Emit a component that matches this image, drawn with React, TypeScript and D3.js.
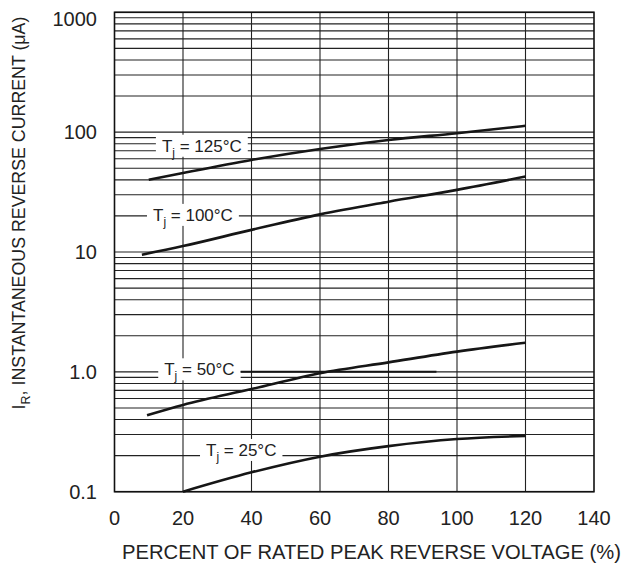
import { useEffect, useRef } from "react";
import * as d3 from "d3";

// percent of rated peak reverse voltage
const X_TICKS = [0, 20, 40, 60, 80, 100, 120, 140];
const Y_TICKS = [0.1, 1, 10, 100, 1000];
const Y_TICK_LABELS = ["0.1", "1.0", "10", "100", "1000"];

// I_R (uA)
const T125_X = [10, 20, 40, 60, 80, 100, 120];
const T125_Y = [40, 45.6, 58.6, 72.4, 86, 98, 113];
const T100_X = [8, 20, 40, 60, 80, 100, 120];
const T100_Y = [9.5, 11.2, 15.3, 20.6, 26.3, 33, 42.6];
const T50_X = [9.5, 20, 40, 60, 80, 100, 120];
const T50_Y = [0.435, 0.53, 0.718, 0.975, 1.2, 1.475, 1.75];
const T25_X = [20, 40, 60, 80, 100, 120];
const T25_Y = [0.1, 0.145, 0.196, 0.24, 0.275, 0.292];

const SERIES_TEMPS = ["125", "100", "50", "25"];
const SERIES_X = [T125_X, T100_X, T50_X, T25_X];
const SERIES_Y = [T125_Y, T100_Y, T50_Y, T25_Y];
// where each curve's label sits, in data units (percent, uA)
const LABEL_X = [25.5, 22.9, 24.8, 37.0];
const LABEL_Y = [77, 20.4, 1.05, 0.223];

const W = 624;
const H = 566;
const FONT = "'Liberation Sans', Arial, Helvetica, sans-serif";

export default function App() {
  const ref = useRef<SVGSVGElement | null>(null);

  useEffect(() => {
    const node = ref.current;
    if (!node) return;
    const svg = d3.select(node);
    svg.selectAll("*").remove();

    const left = 114.5, right = 594, top = 12.3, bottom = 491.7;
    const x = d3.scaleLinear().domain([0, 140]).range([left, right]);
    const y = d3.scaleLog().domain([0.1, 1000]).range([bottom, top]);

    svg.append("rect").attr("width", W).attr("height", H).attr("fill", "#fff");

    const grid = svg.append("g").attr("stroke", "#222").attr("stroke-width", 1.1);
    // horizontal log grid: every 1..9 of each decade
    grid
      .selectAll("line.h")
      .data(y.ticks())
      .enter()
      .append("line")
      .attr("class", "h")
      .attr("x1", left)
      .attr("x2", right)
      .attr("y1", (d) => y(d))
      .attr("y2", (d) => y(d));
    grid
      .selectAll("line.v")
      .data(X_TICKS.slice(1, -1))
      .enter()
      .append("line")
      .attr("class", "v")
      .attr("x1", (d) => x(d))
      .attr("x2", (d) => x(d))
      .attr("y1", top)
      .attr("y2", bottom);

    // curves
    const line = d3
      .line<[number, number]>()
      .x((d) => x(d[0]))
      .y((d) => y(d[1]))
      .curve(d3.curveMonotoneX);

    SERIES_X.forEach((xs, i) => {
      const pts = xs.map((v, j) => [v, SERIES_Y[i][j]] as [number, number]);
      svg
        .append("path")
        .attr("d", line(pts))
        .attr("fill", "none")
        .attr("stroke", "#161616")
        .attr("stroke-width", 2.6)
        .attr("stroke-linecap", "butt");
    });

    // curve labels with white knock-out boxes
    SERIES_TEMPS.forEach((t, i) => {
      const cx = x(LABEL_X[i]);
      const cy = y(LABEL_Y[i]);
      const g = svg.append("g");
      const box = g.append("rect").attr("fill", "#fff");
      const txt = g
        .append("text")
        .attr("x", cx)
        .attr("y", cy + 6)
        .attr("text-anchor", "middle")
        .attr("font-family", FONT)
        .attr("font-size", 17)
        .attr("fill", "#222");
      txt.append("tspan").text("T");
      txt.append("tspan").attr("font-size", 12).attr("dy", 5).text("j");
      txt.append("tspan").attr("dy", -5).text(` = ${t}\u00b0C`);
      const bb = (txt.node() as SVGTextElement).getBBox();
      box
        .attr("x", bb.x - 6)
        .attr("width", bb.width + 12)
        .attr("y", cy - 11)
        .attr("height", 22);
      if (t === "50") {
        svg
          .append("line")
          .attr("x1", bb.x + bb.width + 6)
          .attr("x2", x(94))
          .attr("y1", y(1))
          .attr("y2", y(1))
          .attr("stroke", "#161616")
          .attr("stroke-width", 2);
      }
    });

    // frame
    svg
      .append("rect")
      .attr("x", left)
      .attr("y", top)
      .attr("width", right - left)
      .attr("height", bottom - top)
      .attr("fill", "none")
      .attr("stroke", "#111")
      .attr("stroke-width", 1.6);

    // tick labels
    svg
      .append("g")
      .selectAll("text")
      .data(Y_TICKS)
      .enter()
      .append("text")
      .attr("x", 97)
      .attr("y", (d) => Math.max(y(d), 19) + 7)
      .attr("text-anchor", "end")
      .attr("font-family", FONT)
      .attr("font-size", 20)
      .attr("fill", "#222")
      .text((_, i) => Y_TICK_LABELS[i]);

    svg
      .append("g")
      .selectAll("text")
      .data(X_TICKS)
      .enter()
      .append("text")
      .attr("x", (d) => x(d))
      .attr("y", 524.5)
      .attr("text-anchor", "middle")
      .attr("font-family", FONT)
      .attr("font-size", 20)
      .attr("fill", "#222")
      .text((d) => String(d));

    // axis titles
    svg
      .append("text")
      .attr("x", 371.5)
      .attr("y", 559)
      .attr("text-anchor", "middle")
      .attr("font-family", FONT)
      .attr("font-size", 20.2)
      .attr("fill", "#222")
      .text("PERCENT OF RATED PEAK REVERSE VOLTAGE (%)");

    const yt = svg
      .append("text")
      .attr("transform", "translate(25,213) rotate(-90)")
      .attr("text-anchor", "middle")
      .attr("font-family", FONT)
      .attr("font-size", 17.8)
      .attr("fill", "#222");
    yt.append("tspan").text("I");
    yt.append("tspan").attr("font-size", 12.5).attr("dy", 5).text("R");
    yt.append("tspan").attr("dy", -5).text(", INSTANTANEOUS REVERSE CURRENT (\u03bcA)");
  }, []);

  return (
    <svg
      ref={ref}
      width={W}
      height={H}
      viewBox={`0 0 ${W} ${H}`}
      style={{ position: "absolute", left: 0, top: 0 }}
    />
  );
}
